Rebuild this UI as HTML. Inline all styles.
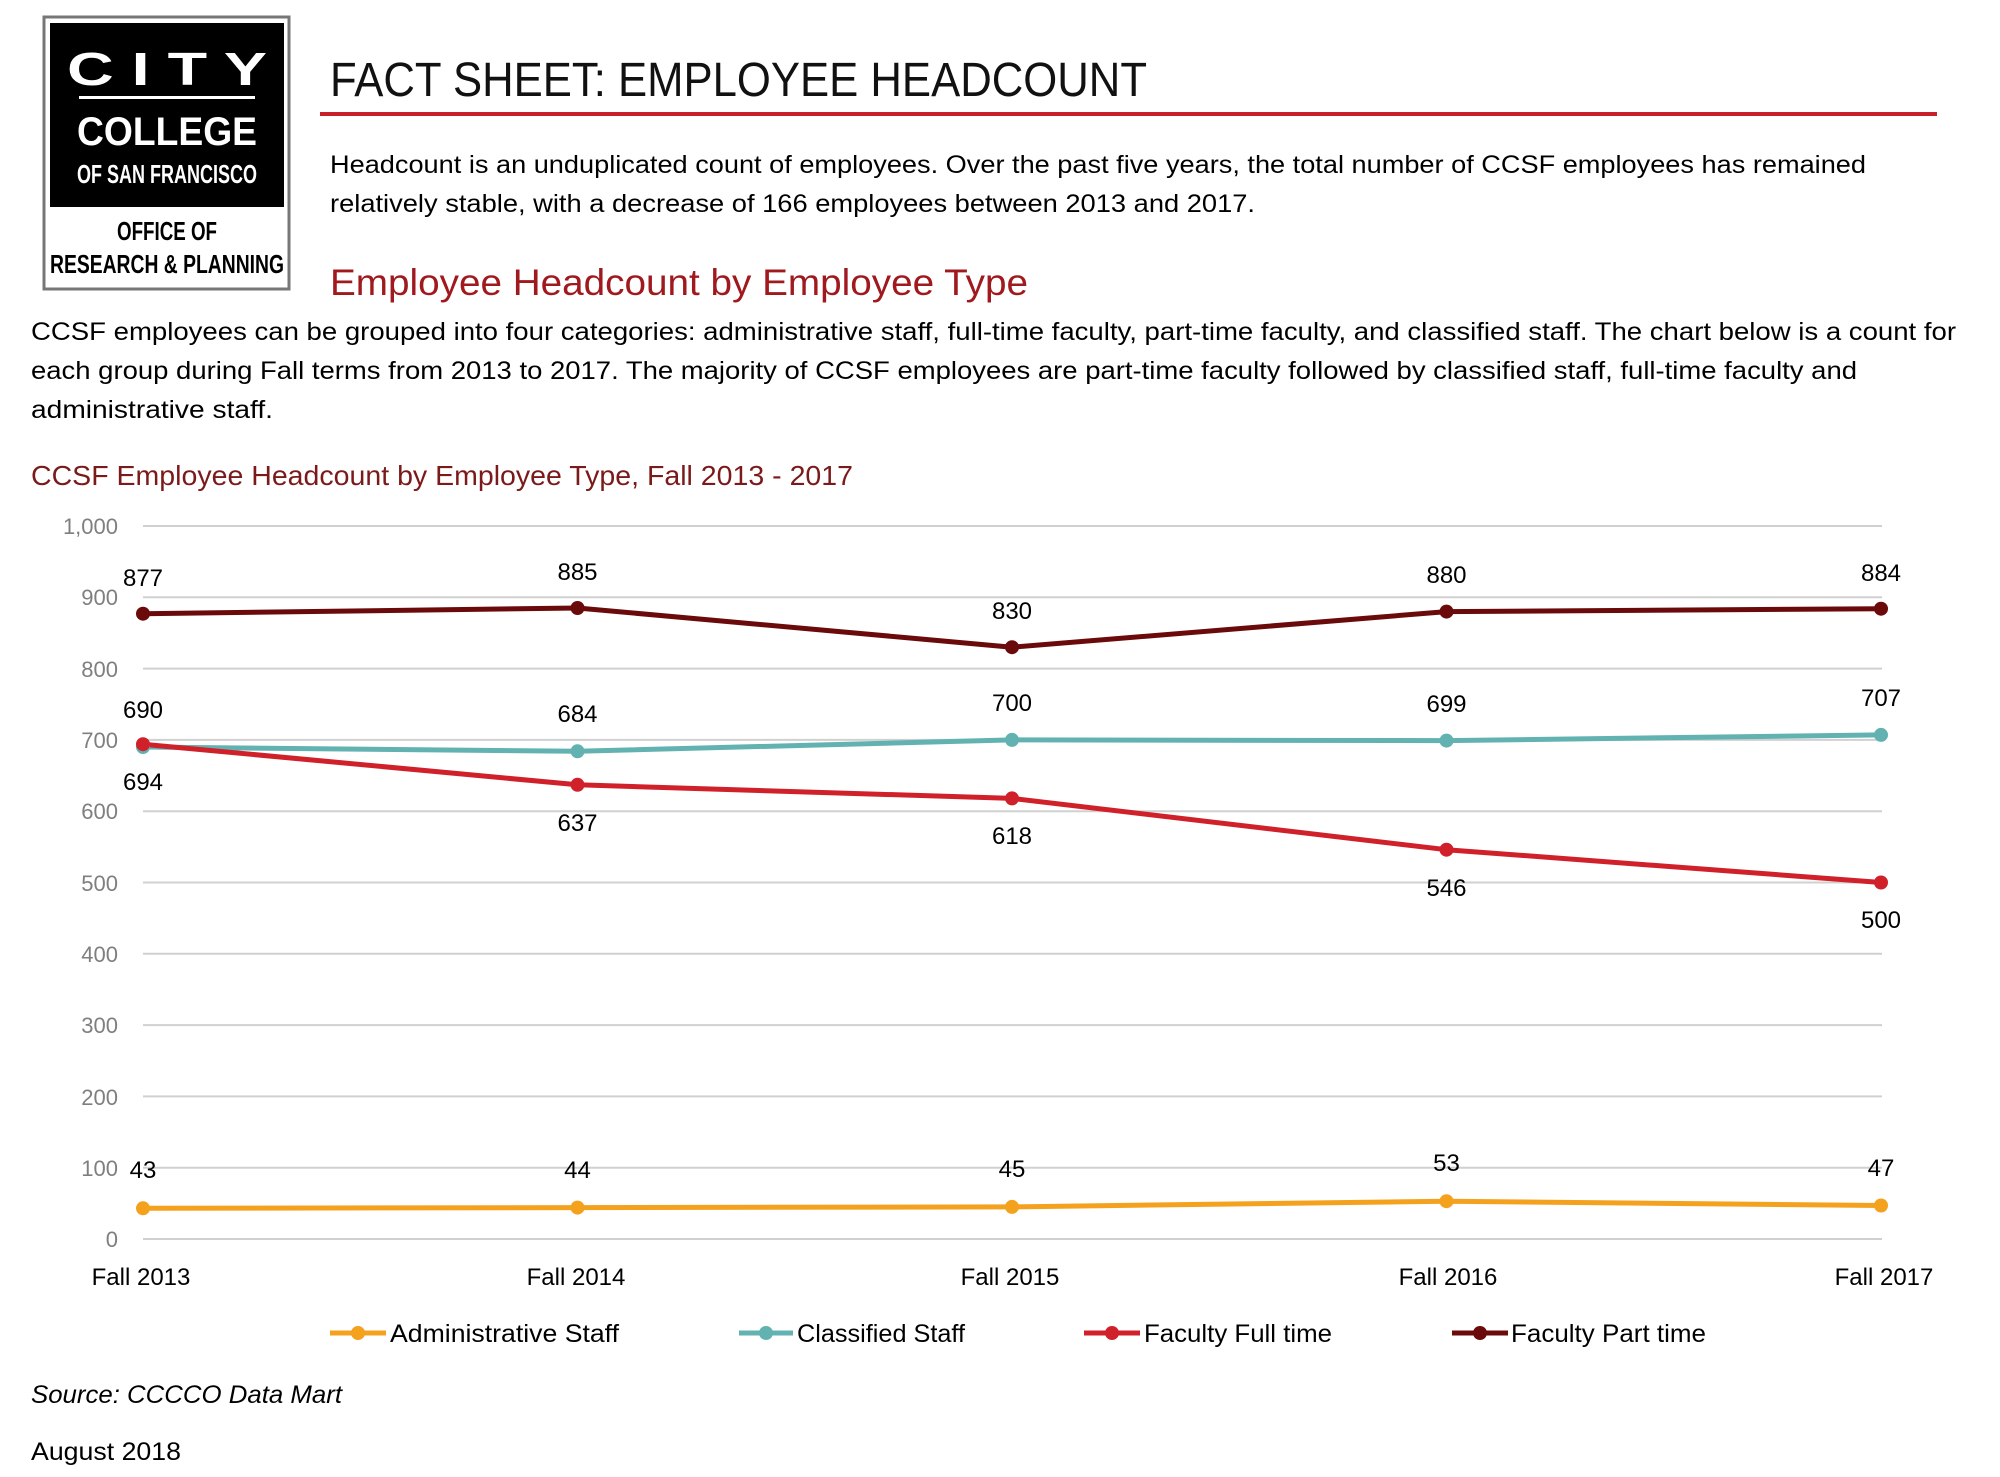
<!DOCTYPE html>
<html><head><meta charset="utf-8"><style>
html,body{margin:0;padding:0;background:#fff;}
svg{display:block;font-family:"Liberation Sans",sans-serif;}
</style></head><body>
<svg width="2000" height="1477" viewBox="0 0 2000 1477" xmlns="http://www.w3.org/2000/svg">
<!-- Logo -->
<rect x="44" y="17" width="245" height="272" fill="#fff" stroke="#777" stroke-width="3"/>
<rect x="50" y="23" width="234" height="184" fill="#000"/>
<text x="167" y="85" fill="#fff" font-size="46" font-weight="bold" text-anchor="middle" textLength="200" lengthAdjust="spacingAndGlyphs">C I T Y</text>
<rect x="79" y="96" width="176" height="3" fill="#fff"/>
<text x="167" y="145" fill="#fff" font-size="40" font-weight="bold" text-anchor="middle" textLength="180" lengthAdjust="spacingAndGlyphs">COLLEGE</text>
<text x="167" y="183" fill="#fff" font-size="26" font-weight="bold" text-anchor="middle" textLength="180" lengthAdjust="spacingAndGlyphs">OF SAN FRANCISCO</text>
<text x="167" y="240" fill="#000" font-size="26" font-weight="bold" text-anchor="middle" textLength="100" lengthAdjust="spacingAndGlyphs">OFFICE OF</text>
<text x="167" y="273" fill="#000" font-size="26" font-weight="bold" text-anchor="middle" textLength="234" lengthAdjust="spacingAndGlyphs">RESEARCH &amp; PLANNING</text>
<!-- Header -->
<text x="330" y="96" font-size="48" fill="#111" textLength="817" lengthAdjust="spacingAndGlyphs">FACT SHEET: EMPLOYEE HEADCOUNT</text>
<rect x="320" y="112" width="1617" height="4" fill="#c8202a"/>
<g font-size="25" fill="#000">
<text x="330" y="173" textLength="1536" lengthAdjust="spacingAndGlyphs">Headcount is an unduplicated count of employees. Over the past five years, the total number of CCSF employees has remained</text>
<text x="330" y="212" textLength="925" lengthAdjust="spacingAndGlyphs">relatively stable, with a decrease of 166 employees between 2013 and 2017.</text>
</g>
<text x="330" y="295" font-size="37" fill="#a0191e" textLength="698" lengthAdjust="spacingAndGlyphs">Employee Headcount by Employee Type</text>
<g font-size="25" fill="#000">
<text x="31" y="340" textLength="1925" lengthAdjust="spacingAndGlyphs">CCSF employees can be grouped into four categories: administrative staff, full-time faculty, part-time faculty, and classified staff. The chart below is a count for</text>
<text x="31" y="379" textLength="1826" lengthAdjust="spacingAndGlyphs">each group during Fall terms from 2013 to 2017. The majority of CCSF employees are part-time faculty followed by classified staff, full-time faculty and</text>
<text x="31" y="418" textLength="242" lengthAdjust="spacingAndGlyphs">administrative staff.</text>
</g>
<text x="31" y="485" font-size="28" fill="#7b1a1a" textLength="822" lengthAdjust="spacingAndGlyphs">CCSF Employee Headcount by Employee Type, Fall 2013 - 2017</text>
<!-- grid -->
<g stroke="#d0d0d0" stroke-width="2">
<line x1="143" x2="1882" y1="526" y2="526"/><line x1="143" x2="1882" y1="597.3" y2="597.3"/>
<line x1="143" x2="1882" y1="668.6" y2="668.6"/><line x1="143" x2="1882" y1="739.9" y2="739.9"/>
<line x1="143" x2="1882" y1="811.2" y2="811.2"/><line x1="143" x2="1882" y1="882.5" y2="882.5"/>
<line x1="143" x2="1882" y1="953.8" y2="953.8"/><line x1="143" x2="1882" y1="1025.1" y2="1025.1"/>
<line x1="143" x2="1882" y1="1096.4" y2="1096.4"/><line x1="143" x2="1882" y1="1167.7" y2="1167.7"/>
<line x1="143" x2="1882" y1="1239" y2="1239"/>
</g>
<g font-size="22" fill="#7f7f7f" text-anchor="end">
<text x="118" y="534">1,000</text><text x="118" y="605">900</text><text x="118" y="677">800</text>
<text x="118" y="748">700</text><text x="118" y="819">600</text><text x="118" y="891">500</text>
<text x="118" y="962">400</text><text x="118" y="1033">300</text><text x="118" y="1105">200</text>
<text x="118" y="1176">100</text><text x="118" y="1247">0</text>
</g>
<g font-size="24" fill="#000" text-anchor="middle">
<text x="141" y="1285">Fall 2013</text><text x="576" y="1285">Fall 2014</text><text x="1010" y="1285">Fall 2015</text><text x="1448" y="1285">Fall 2016</text><text x="1884" y="1285">Fall 2017</text>
</g>
<!-- series -->
<g fill="none" stroke-width="5" stroke-linejoin="round">
<polyline stroke="#f4a11e" points="143,1208.3 577.5,1207.6 1012,1206.9 1446.5,1201.2 1881,1205.5"/>
<polyline stroke="#62b2b2" points="143,747 577.5,751.3 1012,739.9 1446.5,740.6 1881,734.9"/>
<polyline stroke="#d0202a" points="143,744.2 577.5,784.8 1012,798.4 1446.5,849.7 1881,882.5"/>
<polyline stroke="#6b0a0a" points="143,613.7 577.5,608 1012,647.2 1446.5,611.6 1881,608.7"/>
</g>
<g fill="#f4a11e"><circle cx="143" cy="1208.3" r="7"/><circle cx="577.5" cy="1207.6" r="7"/><circle cx="1012" cy="1206.9" r="7"/><circle cx="1446.5" cy="1201.2" r="7"/><circle cx="1881" cy="1205.5" r="7"/></g>
<g fill="#62b2b2"><circle cx="143" cy="747" r="7"/><circle cx="577.5" cy="751.3" r="7"/><circle cx="1012" cy="739.9" r="7"/><circle cx="1446.5" cy="740.6" r="7"/><circle cx="1881" cy="734.9" r="7"/></g>
<g fill="#d0202a"><circle cx="143" cy="744.2" r="7"/><circle cx="577.5" cy="784.8" r="7"/><circle cx="1012" cy="798.4" r="7"/><circle cx="1446.5" cy="849.7" r="7"/><circle cx="1881" cy="882.5" r="7"/></g>
<g fill="#6b0a0a"><circle cx="143" cy="613.7" r="7"/><circle cx="577.5" cy="608" r="7"/><circle cx="1012" cy="647.2" r="7"/><circle cx="1446.5" cy="611.6" r="7"/><circle cx="1881" cy="608.7" r="7"/></g>
<!-- labels -->
<g font-size="24" fill="#000" text-anchor="middle">
<text x="143" y="1178">43</text><text x="577.5" y="1178">44</text><text x="1012" y="1177">45</text><text x="1446.5" y="1171">53</text><text x="1881" y="1176">47</text>
<text x="143" y="718">690</text><text x="577.5" y="722">684</text><text x="1012" y="711">700</text><text x="1446.5" y="712">699</text><text x="1881" y="706">707</text>
<text x="143" y="790">694</text><text x="577.5" y="831">637</text><text x="1012" y="844">618</text><text x="1446.5" y="896">546</text><text x="1881" y="928">500</text>
<text x="143" y="586">877</text><text x="577.5" y="580">885</text><text x="1012" y="619">830</text><text x="1446.5" y="583">880</text><text x="1881" y="581">884</text>
</g>
<!-- legend -->
<g stroke-width="5">
<line x1="330" x2="386" y1="1333" y2="1333" stroke="#f4a11e"/>
<line x1="739" x2="793" y1="1333" y2="1333" stroke="#62b2b2"/>
<line x1="1084" x2="1140" y1="1333" y2="1333" stroke="#d0202a"/>
<line x1="1452" x2="1508" y1="1333" y2="1333" stroke="#6b0a0a"/>
</g>
<circle cx="358" cy="1333" r="7" fill="#f4a11e"/><circle cx="766" cy="1333" r="7" fill="#62b2b2"/>
<circle cx="1112" cy="1333" r="7" fill="#d0202a"/><circle cx="1480" cy="1333" r="7" fill="#6b0a0a"/>
<g font-size="25" fill="#000">
<text x="390" y="1342" textLength="229" lengthAdjust="spacingAndGlyphs">Administrative Staff</text>
<text x="797" y="1342" textLength="168" lengthAdjust="spacingAndGlyphs">Classified Staff</text>
<text x="1144" y="1342" textLength="188" lengthAdjust="spacingAndGlyphs">Faculty Full time</text>
<text x="1511" y="1342" textLength="195" lengthAdjust="spacingAndGlyphs">Faculty Part time</text>
</g>
<text x="31" y="1403" font-size="25" font-style="italic" fill="#000" textLength="311" lengthAdjust="spacingAndGlyphs">Source: CCCCO Data Mart</text>
<text x="31" y="1460" font-size="25" fill="#000" textLength="150" lengthAdjust="spacingAndGlyphs">August 2018</text>
</svg>
</body></html>
